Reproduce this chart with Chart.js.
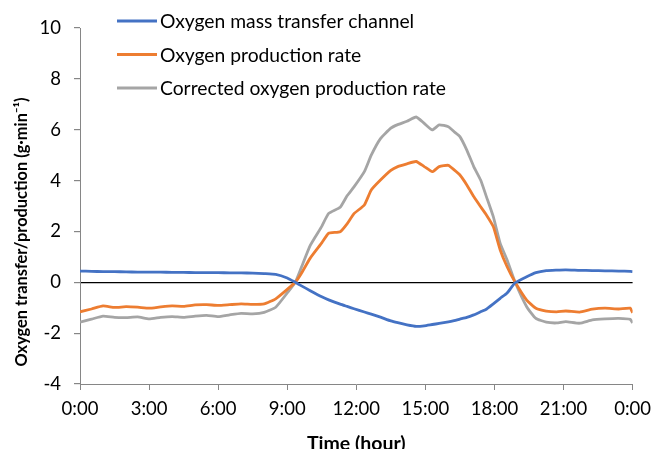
<!DOCTYPE html>
<html>
<head>
<meta charset="utf-8">
<script src="https://cdn.jsdelivr.net/npm/chart.js@4"></script>
<style>
  html, body { margin: 0; padding: 0; background: #fff; }
  #wrap { width: 659px; height: 449px; }
</style>
</head>
<body>
<div id="wrap"><canvas id="chart"></canvas></div>
<script>
// time of day, hours
const hours = [0, 0.5, 1, 1.5, 2, 2.5, 3, 3.5, 4, 4.5, 5, 5.5, 6, 6.5, 7, 7.5, 8, 8.5, 9, 9.35,
  9.6, 10, 10.5, 10.8, 11.3, 11.6, 11.9, 12.35, 12.65, 13.05, 13.5, 13.8, 14.2, 14.6, 14.95, 15.3,
  15.6, 16, 16.25, 16.5, 16.8, 17.1, 17.4, 17.65, 17.95, 18.25, 18.55, 18.9, 19.4, 19.8, 20.25,
  20.7, 21.1, 21.7, 22.25, 22.8, 23.4, 23.9, 24];

const transferChannel = [0.44, 0.43, 0.42, 0.42, 0.41, 0.40, 0.40, 0.40, 0.39, 0.39, 0.38, 0.38, 0.38, 0.37, 0.37, 0.36, 0.34, 0.31, 0.17, 0,
  -0.13, -0.33, -0.57, -0.69, -0.86, -0.95, -1.04, -1.17, -1.25, -1.37, -1.52, -1.59, -1.67, -1.73, -1.71, -1.66,
  -1.62, -1.56, -1.51, -1.45, -1.38, -1.28, -1.16, -1.06, -0.85, -0.63, -0.42, -0.02, 0.22, 0.38, 0.46,
  0.48, 0.49, 0.47, 0.46, 0.45, 0.44, 0.43, 0.42];

const productionRate = [-1.16, -1.05, -0.93, -0.99, -0.96, -0.98, -1.02, -0.97, -0.93, -0.95, -0.89, -0.88, -0.91, -0.88, -0.85, -0.87, -0.85, -0.65, -0.28, 0,
  0.33, 0.95, 1.55, 1.93, 1.99, 2.3, 2.7, 3.04, 3.63, 4.02, 4.4, 4.55, 4.66, 4.75, 4.55, 4.35,
  4.55, 4.6, 4.42, 4.22, 3.83, 3.37, 2.97, 2.65, 2.19, 1.27, 0.61, 0, -0.7, -1.02, -1.13,
  -1.16, -1.13, -1.17, -1.06, -1.02, -1.05, -1.02, -1.2];

const correctedRate = [-1.57, -1.45, -1.33, -1.38, -1.39, -1.36, -1.44, -1.38, -1.35, -1.38, -1.33, -1.30, -1.35, -1.28, -1.22, -1.24, -1.18, -0.98, -0.42, 0,
  0.55, 1.45, 2.2, 2.71, 2.95, 3.4, 3.75, 4.35, 5.0, 5.65, 6.06, 6.2, 6.33, 6.5, 6.25, 5.99,
  6.19, 6.12, 5.92, 5.73, 5.2, 4.55, 4.02, 3.37, 2.58, 1.53, 0.88, 0, -0.96, -1.42, -1.57,
  -1.6, -1.55, -1.61, -1.48, -1.44, -1.42, -1.46, -1.6];

const seriesNames = ['Oxygen mass transfer channel', 'Oxygen production rate', 'Corrected oxygen production rate'];
const seriesColors = ['#4472C4', '#ED7D31', '#A5A5A5'];
const yTitle = 'Oxygen transfer/production (g·min⁻¹)';

const FONT = 'Lato, "Liberation Sans", sans-serif';
const AXIS_GREY = '#868686';

function pts(values) {
  return values.map((v, i) => ({ x: hours[i], y: v }));
}

// legend inside the plot (top left) and the y title, which sits lower than the plot centre
const extras = {
  id: 'extras',
  afterDraw(chart) {
    const ctx = chart.ctx;
    ctx.save();
    ctx.font = '19.3px ' + FONT;
    ctx.textBaseline = 'middle';
    chart.data.datasets.forEach((ds, i) => {
      const y = 21 + i * 33.5;
      ctx.strokeStyle = ds.borderColor;
      ctx.lineWidth = 2.8;
      ctx.beginPath();
      ctx.moveTo(117, y);
      ctx.lineTo(157, y);
      ctx.stroke();
      ctx.fillStyle = '#000';
      ctx.fillText(ds.label, 160, y + 1);
    });

    ctx.translate(22, 232);
    ctx.rotate(-Math.PI / 2);
    ctx.font = 'bold 16.4px ' + FONT;
    ctx.textAlign = 'center';
    ctx.fillStyle = '#000';
    ctx.fillText(yTitle, 0, 0);
    ctx.restore();
  }
};

new Chart(document.getElementById('chart'), {
  type: 'line',
  data: {
    datasets: [
      { label: seriesNames[0], data: pts(transferChannel), borderColor: seriesColors[0] },
      { label: seriesNames[1], data: pts(productionRate), borderColor: seriesColors[1] },
      { label: seriesNames[2], data: pts(correctedRate), borderColor: seriesColors[2] }
    ]
  },
  options: {
    responsive: true,
    maintainAspectRatio: false,
    animation: false,
    layout: { padding: { top: 28, right: 22, left: 0, bottom: 0 } },
    elements: {
      point: { radius: 0 },
      line: { borderWidth: 2.8, tension: 0.15 }
    },
    plugins: {
      legend: { display: false },
      tooltip: { enabled: false }
    },
    scales: {
      x: {
        type: 'linear',
        min: 0,
        max: 24,
        afterFit: s => { s.height = 65; },
        ticks: {
          stepSize: 3,
          color: '#000',
          padding: 8,
          maxRotation: 0,
          font: { family: FONT, size: 18.5 },
          callback: v => (v % 24) + ':00'
        },
        grid: { drawOnChartArea: false, tickLength: 6, color: AXIS_GREY },
        border: { color: AXIS_GREY },
        title: {
          display: true,
          text: 'Time (hour)',
          color: '#000',
          padding: { top: 0, bottom: -6 },
          font: { family: FONT, size: 19.5, weight: 'bold' }
        }
      },
      y: {
        min: -4,
        max: 10,
        afterFit: s => { s.width = 80; },
        ticks: {
          stepSize: 2,
          color: '#000',
          padding: 13,
          font: { family: FONT, size: 18.5 }
        },
        grid: {
          tickLength: 6,
          tickColor: AXIS_GREY,
          lineWidth: 1.2,
          color: c => (c.tick && c.tick.value === 0) ? '#000' : 'rgba(0,0,0,0)'
        },
        border: { color: AXIS_GREY }
      }
    }
  },
  plugins: [extras]
});
</script>
</body>
</html>
